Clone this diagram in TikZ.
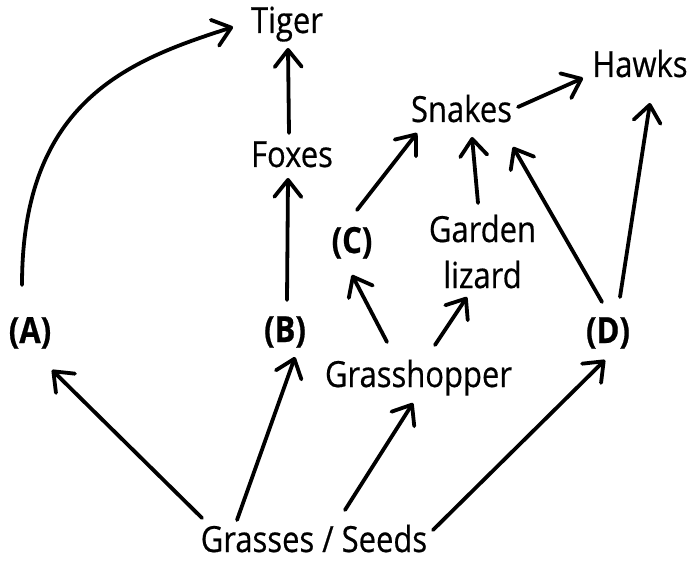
\documentclass[tikz,border=0pt]{standalone}
\usepackage{fontspec}
\setmainfont{Open Sans}[FakeStretch=0.86,FakeBold=0.5,BoldFeatures={FakeBold=0.6}]
\usetikzlibrary{arrows.meta}
\begin{document}
\begin{tikzpicture}[x=1pt,y=-1pt,
  lbl/.style={inner sep=0pt,anchor=base,font=\fontsize{36}{46}\selectfont},
  blbl/.style={lbl,font=\fontsize{36}{46}\selectfont\bfseries},
  arr/.style={line width=3.8pt,line cap=round,line join=round,
    -{Straight Barb[length=17pt,width=27pt,line cap=round,line join=round]}}]
\useasboundingbox (0,0) rectangle (690,561);
\node[lbl] (tiger) at (287,33) {Tiger};
\node[lbl] (foxes) at (292,167) {Foxes};
\node[lbl] (snakes) at (461.5,122) {Snakes};
\node[lbl] (hawks) at (640,77) {Hawks};
\node[lbl,anchor=north,align=center] (lizard) at (482.5,214.5) {Garden\\lizard};
\node[lbl] (hopper) at (418.5,387) {Grasshopper};
\node[lbl] (grass) at (314,552) {Grasses / Seeds};
\node[blbl] (A) at (30,343) {(A)};
\node[blbl] (B) at (285,342) {(B)};
\node[blbl] (C) at (352,253) {(C)};
\node[blbl] (D) at (608,343) {(D)};

\draw[arr] ([shift={(-8,-58)}]A.base) .. controls (22,100) and (130,60) .. ([shift={(-54,-6)}]tiger.base);
\draw[arr] ([shift={(-3,-34)}]foxes.base) -- ([shift={(1,15)}]tiger.base);
\draw[arr] ([shift={(2,-42)}]B.base) -- ([shift={(-4,11)}]foxes.base);
\draw[arr] ([shift={(-112,-34)}]grass.base) -- ([shift={(22,27)}]A.base);
\draw[arr] ([shift={(-77,-32)}]grass.base) -- ([shift={(10,15)}]B.base);
\draw[arr] ([shift={(31,-42)}]grass.base) -- ([shift={(-5.5,16)}]hopper.base);
\draw[arr] ([shift={(119,-22)}]grass.base) -- ([shift={(-3,17)}]D.base);
\draw[arr] ([shift={(-31.5,-45)}]hopper.base) -- ([shift={(0,22)}]C.base);
\draw[arr] ([shift={(16.5,-42)}]hopper.base) -- ([shift={(-15.5,82.5)}]lizard.north);
\draw[arr] ([shift={(5,-43)}]C.base) -- ([shift={(-44.5,11)}]snakes.base);
\draw[arr] ([shift={(-4.5,-11.5)}]lizard.north) -- ([shift={(10.5,15)}]snakes.base);
\draw[arr] ([shift={(-6,-41)}]D.base) -- ([shift={(51.5,25)}]snakes.base);
\draw[arr] ([shift={(12,-46)}]D.base) -- ([shift={(10,26)}]hawks.base);
\draw[arr] ([shift={(56.5,-15)}]snakes.base) -- ([shift={(-57,1)}]hawks.base);
\end{tikzpicture}
\end{document}
